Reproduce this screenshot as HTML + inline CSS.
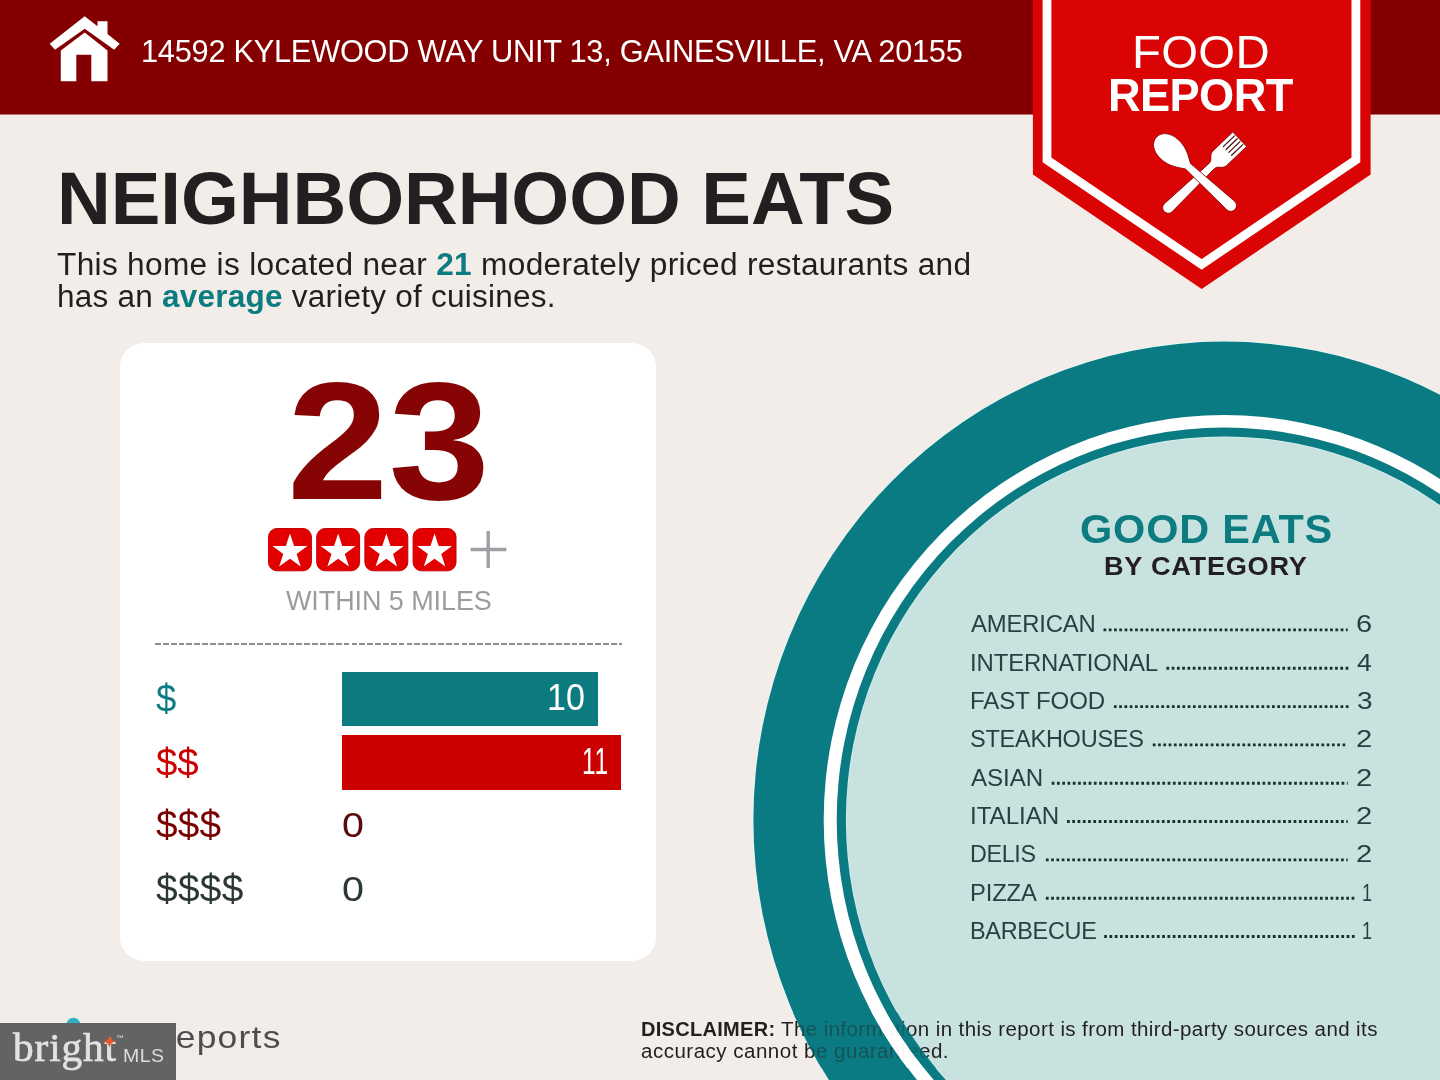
<!DOCTYPE html>
<html lang="en">
<head>
<meta charset="utf-8">
<title>Food Report - Neighborhood Eats</title>
<style>
html,body{margin:0;padding:0}
body{width:1440px;height:1080px;position:relative;overflow:hidden;background:#f2ede8;font-family:"Liberation Sans",Arial,Helvetica,sans-serif}
.t{position:absolute;white-space:pre;line-height:1;transform-origin:0 0;margin:0;padding:0}
.t b{font-weight:700}
#art{position:absolute;left:0;top:0;z-index:1}
#card{position:absolute;left:120px;top:343px;width:536px;height:618px;border-radius:24px;background:#fff;z-index:3}
.bar{position:absolute;z-index:4}
#wm{position:absolute;left:0;top:1022.7px;width:175.6px;height:58px;background:#636363;z-index:6}
</style>
</head>
<body>
<svg id="art" width="1440" height="1080" viewBox="0 0 1440 1080">
  <!-- circle plate -->
  <ellipse cx="1224.2" cy="820.1" rx="471.6" ry="479.3" fill="#e6f8f8"/>
  <ellipse cx="1224.2" cy="820.1" rx="470.8" ry="478.5" fill="#0b7b83"/>
  <ellipse cx="1224.2" cy="820.1" rx="400.5" ry="405.0" fill="#fff"/>
  <ellipse cx="1224.2" cy="820.1" rx="387.5" ry="392.5" fill="#0b7b83"/>
  <ellipse cx="1224.2" cy="820.1" rx="378.3" ry="383.6" fill="#d4f1ef"/>
  <ellipse cx="1224.2" cy="820.1" rx="377.5" ry="382.8" fill="#c8e2df"/>
  <!-- header -->
  <rect x="0" y="0" width="1440" height="114.5" fill="#840000"/>
  <!-- badge -->
  <path d="M1032.9 0H1370.6V174.6L1201.7 288.9L1032.9 174.6Z" fill="#db0404"/>
  <path d="M1047 -5V159.8L1201.6 264.4L1355.9 159.8V-5" fill="none" stroke="#fff" stroke-width="8.8"/>
  <!-- house -->
  <g fill="#fff">
    <path d="M84.7 16.2L97.5 26.2V21.3H107.5V34L119.7 43.7L114.2 49.7L84.7 28.7L55 49.7L49.7 43.7Z"/>
    <path d="M84.7 32.5L107.5 50.5V81.3H91.3V54.7H76.3V81.3H60.8V50.5Z"/>
  </g>
  <!-- spoon & fork -->
  <g transform="translate(1239.7 139.2) rotate(136.2)">
    <path d="M0 -10H27C33 -10 33.5 -5 37 -4C39 -3.6 40 -3.7 42 -3.8L99 -5.6A5.6 5.6 0 0 1 99 5.6L42 3.8C40 3.7 39 3.6 37 4C33.5 5 33 10 27 10H0Z" fill="#fff" stroke="#8a0000" stroke-width="0.8"/>
    <path d="M1.5 -6H17M1.5 -2H17M1.5 2H17M1.5 6H17" stroke="#4a0a0a" stroke-width="1.2" stroke-linecap="round" fill="none"/>
  </g>
  <g transform="translate(1156.4 137.2) rotate(42.6)">
    <path d="M0 0C0 -8 8 -13 18 -13C30 -13 37 -7 43 -3.7L101 -5.8A5.8 5.8 0 0 1 101 5.8L43 3.7C37 7 30 13 18 13C8 13 0 8 0 0Z" fill="#fff" stroke="#8a0000" stroke-width="0.8"/>
  </g>
</svg>
<div id="card"></div>
<div class="bar" style="left:341.7px;top:671.8px;width:256.3px;height:54.1px;background:#0b7b80"></div>
<div class="bar" style="left:341.7px;top:735.4px;width:279.4px;height:54.3px;background:#cb0000"></div>
<div class="bar" style="left:154.8px;top:643px;width:467px;height:2.4px;background:repeating-linear-gradient(to right,#8e8e8e 0 5.8px,transparent 5.8px 7.86px)"></div>
<svg style="position:absolute;left:0;top:0;z-index:4" width="1440" height="1080" viewBox="0 0 1440 1080">
  
  <g transform="translate(268 528)"><rect x="0.5" y="0.5" width="42.9" height="42.3" rx="8.5" fill="#e20000" stroke="#c60000" stroke-width="1"/><path fill="#fff" transform="translate(21.95 23.75)" d="M0.00 -18.35L4.11 -5.66L17.45 -5.67L6.66 2.16L10.79 14.85L0.00 7.00L-10.79 14.85L-6.66 2.16L-17.45 -5.67L-4.11 -5.66Z"/></g>
  <g transform="translate(316.2 528)"><rect x="0.5" y="0.5" width="42.9" height="42.3" rx="8.5" fill="#e20000" stroke="#c60000" stroke-width="1"/><path fill="#fff" transform="translate(21.95 23.75)" d="M0.00 -18.35L4.11 -5.66L17.45 -5.67L6.66 2.16L10.79 14.85L0.00 7.00L-10.79 14.85L-6.66 2.16L-17.45 -5.67L-4.11 -5.66Z"/></g>
  <g transform="translate(364.4 528)"><rect x="0.5" y="0.5" width="42.9" height="42.3" rx="8.5" fill="#e20000" stroke="#c60000" stroke-width="1"/><path fill="#fff" transform="translate(21.95 23.75)" d="M0.00 -18.35L4.11 -5.66L17.45 -5.67L6.66 2.16L10.79 14.85L0.00 7.00L-10.79 14.85L-6.66 2.16L-17.45 -5.67L-4.11 -5.66Z"/></g>
  <g transform="translate(412.6 528)"><rect x="0.5" y="0.5" width="42.9" height="42.3" rx="8.5" fill="#e20000" stroke="#c60000" stroke-width="1"/><path fill="#fff" transform="translate(21.95 23.75)" d="M0.00 -18.35L4.11 -5.66L17.45 -5.67L6.66 2.16L10.79 14.85L0.00 7.00L-10.79 14.85L-6.66 2.16L-17.45 -5.67L-4.11 -5.66Z"/></g>
  <path d="M470.6 549.5H506.3M488.2 531V568" stroke="#9d9fa2" stroke-width="3.4" fill="none"/>
</svg>
<svg style="position:absolute;left:0;top:0;z-index:4" width="1440" height="1080" viewBox="0 0 1440 1080"><g stroke="#1f2e2e" stroke-width="2.9" stroke-dasharray="2.75 2.52" fill="none"><path d="M1103.5 629.9H1347.7"/><path d="M1166.4 668.2H1350.8"/><path d="M1113.9 706.6H1350.8"/><path d="M1152.8 744.9H1347.7"/><path d="M1051.7 783.2H1347.7"/><path d="M1067.0 821.5H1347.7"/><path d="M1045.9 859.9H1347.7"/><path d="M1045.9 898.2H1356.0"/><path d="M1104.2 936.5H1356.0"/></g></svg>
<svg style="position:absolute;left:0;top:0;z-index:3" width="1440" height="1080" viewBox="0 0 1440 1080">
  <defs><clipPath id="dc"><rect x="760" y="1012" width="260" height="56"/></clipPath></defs>
  <g clip-path="url(#dc)" fill-rule="evenodd">
    <path d="M753.1 820.1a471.1 478.8 0 1 0 942.2 0a471.1 478.8 0 1 0 -942.2 0ZM823.7 820.1a400.5 405.0 0 1 0 801.0 0a400.5 405.0 0 1 0 -801.0 0Z" fill="#0b7b83" opacity="0.56"/>
    <path d="M823.7 820.1a400.5 405.0 0 1 0 801.0 0a400.5 405.0 0 1 0 -801.0 0ZM836.7 820.1a387.5 392.5 0 1 0 775.0 0a387.5 392.5 0 1 0 -775.0 0Z" fill="#fff" opacity="0.96"/>
    <path d="M836.7 820.1a387.5 392.5 0 1 0 775.0 0a387.5 392.5 0 1 0 -775.0 0ZM846.3 820.1a377.9 383.2 0 1 0 755.8 0a377.9 383.2 0 1 0 -755.8 0Z" fill="#0b7b83" opacity="0.75"/>
  </g>
</svg>
<svg style="position:absolute;left:0;top:0;z-index:2" width="1440" height="1080" viewBox="0 0 1440 1080">
  <circle cx="73.4" cy="1024.6" r="6.9" fill="#2bb4c0"/>
</svg>
<div id="wm"></div>
<svg style="position:absolute;left:0;top:0;z-index:8" width="1440" height="1080" viewBox="0 0 1440 1080">
  <path d="M109.4 1035.3Q110.3 1040.6 115.6 1041.5Q110.3 1042.4 109.4 1047.7Q108.5 1042.4 103.2 1041.5Q108.5 1040.6 109.4 1035.3Z" fill="#e9562c"/>
</svg>
<header id="hdr">
<div class="t" style="left:141.39px;top:35.10px;font-size:32px;font-weight:400;color:#fff;font-family:'Liberation Sans', Arial, Helvetica, sans-serif;letter-spacing:-0.293px;transform:scaleX(0.9624);z-index:5;">14592 KYLEWOOD WAY UNIT 13, GAINESVILLE, VA 20155</div>
<div class="t" style="left:1132.02px;top:27.80px;font-size:47px;font-weight:400;color:#fff;font-family:'Liberation Sans', Arial, Helvetica, sans-serif;letter-spacing:0.307px;transform:scaleX(1.0071);z-index:5;">FOOD</div>
<div class="t" style="left:1108.27px;top:70.80px;font-size:47px;font-weight:700;color:#fff;font-family:'Liberation Sans', Arial, Helvetica, sans-serif;letter-spacing:-0.636px;transform:scaleX(0.9618);z-index:5;">REPORT</div>
</header>
<section id="intro">
<div class="t" style="left:56.71px;top:162.00px;font-size:74.5px;font-weight:700;color:#231f20;font-family:'Liberation Sans', Arial, Helvetica, sans-serif;letter-spacing:-0.032px;transform:scaleX(0.9986);z-index:5;">NEIGHBORHOOD EATS</div>
<div class="t" style="left:56.53px;top:248.50px;font-size:31px;font-weight:400;color:#231f20;font-family:'Liberation Sans', Arial, Helvetica, sans-serif;letter-spacing:0.300px;transform:scaleX(1.0209);z-index:5;">This home is located near <b style="color:#0d7c81">21</b> moderately priced restaurants and</div>
<div class="t" style="left:56.71px;top:281.00px;font-size:31px;font-weight:400;color:#231f20;font-family:'Liberation Sans', Arial, Helvetica, sans-serif;letter-spacing:0.233px;transform:scaleX(1.0166);z-index:5;">has an <b style="color:#0d7c81">average</b> variety of cuisines.</div>
</section>
<section id="stats">
<div class="t" style="left:286.73px;top:357.30px;font-size:167.4px;font-weight:700;color:#860404;font-family:'Liberation Sans', Arial, Helvetica, sans-serif;letter-spacing:0.000px;transform:scaleX(1.0900);z-index:5;">23</div>
<div class="t" style="left:285.75px;top:587.25px;font-size:27.2px;font-weight:400;color:#9a9c9e;font-family:'Liberation Sans', Arial, Helvetica, sans-serif;letter-spacing:-0.063px;transform:scaleX(0.9909);z-index:5;">WITHIN 5 MILES</div>
<div class="t" style="left:156.43px;top:679.88px;font-size:38.5px;font-weight:400;color:#0c7c80;font-family:'Liberation Sans', Arial, Helvetica, sans-serif;letter-spacing:0.000px;transform:scaleX(0.9481);z-index:5;">$</div>
<div class="t" style="left:547.40px;top:680.00px;font-size:36px;font-weight:400;color:#fff;font-family:'Liberation Sans', Arial, Helvetica, sans-serif;letter-spacing:0.000px;transform:scaleX(0.9455);z-index:5;">10</div>
<div class="t" style="left:156.40px;top:743.67px;font-size:38.5px;font-weight:400;color:#cc0000;font-family:'Liberation Sans', Arial, Helvetica, sans-serif;letter-spacing:-0.045px;transform:scaleX(0.9975);z-index:5;">$$</div>
<div class="t" style="left:581.63px;top:744.00px;font-size:36px;font-weight:400;color:#fff;font-family:'Liberation Sans', Arial, Helvetica, sans-serif;letter-spacing:0.971px;transform:scaleX(0.6800);z-index:5;">11</div>
<div class="t" style="left:156.40px;top:806.38px;font-size:38.5px;font-weight:400;color:#7a0000;font-family:'Liberation Sans', Arial, Helvetica, sans-serif;letter-spacing:0.175px;transform:scaleX(1.0055);z-index:5;">$$$</div>
<div class="t" style="left:342.43px;top:808.30px;font-size:35.5px;font-weight:400;color:#5a0a0a;font-family:'Liberation Sans', Arial, Helvetica, sans-serif;letter-spacing:0.000px;transform:scaleX(1.1104);z-index:5;">0</div>
<div class="t" style="left:156.40px;top:869.88px;font-size:38.5px;font-weight:400;color:#2c3838;font-family:'Liberation Sans', Arial, Helvetica, sans-serif;letter-spacing:0.265px;transform:scaleX(1.0094);z-index:5;">$$$$</div>
<div class="t" style="left:342.43px;top:871.50px;font-size:35.5px;font-weight:400;color:#2c3838;font-family:'Liberation Sans', Arial, Helvetica, sans-serif;letter-spacing:0.000px;transform:scaleX(1.1104);z-index:5;">0</div>
</section>
<aside id="categories">
<div class="t" style="left:1079.90px;top:508.90px;font-size:40.4px;font-weight:700;color:#0d7c81;font-family:'Liberation Sans', Arial, Helvetica, sans-serif;letter-spacing:0.789px;transform:scaleX(1.0268);z-index:5;">GOOD EATS</div>
<div class="t" style="left:1103.79px;top:553.00px;font-size:26.2px;font-weight:700;color:#231f20;font-family:'Liberation Sans', Arial, Helvetica, sans-serif;letter-spacing:0.692px;transform:scaleX(1.0371);z-index:5;">BY CATEGORY</div>
<div class="t" style="left:970.70px;top:612.40px;font-size:24.4px;font-weight:400;color:#2b3f40;font-family:'Liberation Sans', Arial, Helvetica, sans-serif;letter-spacing:-0.171px;transform:scaleX(0.9781);z-index:5;">AMERICAN</div>
<div class="t" style="left:1356.11px;top:612.40px;font-size:24.4px;font-weight:400;color:#2b3f40;font-family:'Liberation Sans', Arial, Helvetica, sans-serif;letter-spacing:0.000px;transform:scaleX(1.1911);z-index:5;">6</div>
<div class="t" style="left:969.79px;top:650.73px;font-size:24.4px;font-weight:400;color:#2b3f40;font-family:'Liberation Sans', Arial, Helvetica, sans-serif;letter-spacing:-0.133px;transform:scaleX(0.9806);z-index:5;">INTERNATIONAL</div>
<div class="t" style="left:1357.05px;top:650.73px;font-size:24.4px;font-weight:400;color:#2b3f40;font-family:'Liberation Sans', Arial, Helvetica, sans-serif;letter-spacing:0.000px;transform:scaleX(1.0939);z-index:5;">4</div>
<div class="t" style="left:970.03px;top:689.06px;font-size:24.4px;font-weight:400;color:#2b3f40;font-family:'Liberation Sans', Arial, Helvetica, sans-serif;letter-spacing:-0.096px;transform:scaleX(0.9867);z-index:5;">FAST FOOD</div>
<div class="t" style="left:1356.65px;top:689.06px;font-size:24.4px;font-weight:400;color:#2b3f40;font-family:'Liberation Sans', Arial, Helvetica, sans-serif;letter-spacing:0.000px;transform:scaleX(1.1478);z-index:5;">3</div>
<div class="t" style="left:970.19px;top:727.39px;font-size:24.4px;font-weight:400;color:#2b3f40;font-family:'Liberation Sans', Arial, Helvetica, sans-serif;letter-spacing:-0.272px;transform:scaleX(0.9652);z-index:5;">STEAKHOUSES</div>
<div class="t" style="left:1356.30px;top:727.39px;font-size:24.4px;font-weight:400;color:#2b3f40;font-family:'Liberation Sans', Arial, Helvetica, sans-serif;letter-spacing:0.000px;transform:scaleX(1.2000);z-index:5;">2</div>
<div class="t" style="left:970.70px;top:765.72px;font-size:24.4px;font-weight:400;color:#2b3f40;font-family:'Liberation Sans', Arial, Helvetica, sans-serif;letter-spacing:-0.072px;transform:scaleX(0.9906);z-index:5;">ASIAN</div>
<div class="t" style="left:1356.30px;top:765.72px;font-size:24.4px;font-weight:400;color:#2b3f40;font-family:'Liberation Sans', Arial, Helvetica, sans-serif;letter-spacing:0.000px;transform:scaleX(1.2000);z-index:5;">2</div>
<div class="t" style="left:969.77px;top:804.05px;font-size:24.4px;font-weight:400;color:#2b3f40;font-family:'Liberation Sans', Arial, Helvetica, sans-serif;letter-spacing:-0.053px;transform:scaleX(0.9915);z-index:5;">ITALIAN</div>
<div class="t" style="left:1356.30px;top:804.05px;font-size:24.4px;font-weight:400;color:#2b3f40;font-family:'Liberation Sans', Arial, Helvetica, sans-serif;letter-spacing:0.000px;transform:scaleX(1.2000);z-index:5;">2</div>
<div class="t" style="left:970.09px;top:842.38px;font-size:24.4px;font-weight:400;color:#2b3f40;font-family:'Liberation Sans', Arial, Helvetica, sans-serif;letter-spacing:-0.330px;transform:scaleX(0.9550);z-index:5;">DELIS</div>
<div class="t" style="left:1356.30px;top:842.38px;font-size:24.4px;font-weight:400;color:#2b3f40;font-family:'Liberation Sans', Arial, Helvetica, sans-serif;letter-spacing:0.000px;transform:scaleX(1.2000);z-index:5;">2</div>
<div class="t" style="left:970.05px;top:880.71px;font-size:24.4px;font-weight:400;color:#2b3f40;font-family:'Liberation Sans', Arial, Helvetica, sans-serif;letter-spacing:-0.167px;transform:scaleX(0.9769);z-index:5;">PIZZA</div>
<div class="t" style="left:1362.20px;top:880.71px;font-size:24.4px;font-weight:400;color:#2b3f40;font-family:'Liberation Sans', Arial, Helvetica, sans-serif;letter-spacing:0.000px;transform:scaleX(0.7442);z-index:5;">1</div>
<div class="t" style="left:970.08px;top:919.04px;font-size:24.4px;font-weight:400;color:#2b3f40;font-family:'Liberation Sans', Arial, Helvetica, sans-serif;letter-spacing:-0.317px;transform:scaleX(0.9610);z-index:5;">BARBECUE</div>
<div class="t" style="left:1362.20px;top:919.04px;font-size:24.4px;font-weight:400;color:#2b3f40;font-family:'Liberation Sans', Arial, Helvetica, sans-serif;letter-spacing:0.000px;transform:scaleX(0.7442);z-index:5;">1</div>
</aside>
<footer id="ftr">
<div class="t" style="left:640.72px;top:1019.80px;font-size:19.6px;font-weight:400;color:#231f20;font-family:'Liberation Sans', Arial, Helvetica, sans-serif;letter-spacing:0.274px;transform:scaleX(1.0219);z-index:2;"><b>DISCLAIMER:</b></div>
<div class="t" style="left:781.28px;top:1019.80px;font-size:19.6px;font-weight:400;color:#231f20;font-family:'Liberation Sans', Arial, Helvetica, sans-serif;letter-spacing:0.390px;transform:scaleX(1.0467);z-index:2;">The information in this report is from third-party sources and its</div>
<div class="t" style="left:641.21px;top:1041.70px;font-size:19.6px;font-weight:400;color:#231f20;font-family:'Liberation Sans', Arial, Helvetica, sans-serif;letter-spacing:0.463px;transform:scaleX(1.0484);z-index:2;">accuracy cannot be guaranteed.</div>
<div class="t" style="left:149.10px;top:1021.70px;font-size:30.5px;font-weight:400;color:#4d4d4f;font-family:'Liberation Sans', Arial, Helvetica, sans-serif;letter-spacing:1.068px;transform:scaleX(1.1600);z-index:3;">Reports</div>
<div class="t" style="left:13.00px;top:1028.80px;font-size:39.5px;font-weight:400;color:#e2e2e2;font-family:'Liberation Serif', 'Times New Roman', serif;letter-spacing:0.841px;transform:scaleX(1.0447);z-index:7;-webkit-text-stroke:0.7px #e2e2e2;">bright</div>
<div class="t" style="left:123.46px;top:1045.80px;font-size:19px;font-weight:400;color:#dcdcdc;font-family:'Liberation Sans', Arial, Helvetica, sans-serif;letter-spacing:0.432px;transform:scaleX(1.0235);z-index:7;">MLS</div>
<div class="t" style="left:115.68px;top:1034.00px;font-size:7px;font-weight:400;color:#dcdcdc;font-family:'Liberation Sans', Arial, Helvetica, sans-serif;letter-spacing:0.000px;transform:scaleX(1.0909);z-index:7;">™</div>
</footer>
</body>
</html>
